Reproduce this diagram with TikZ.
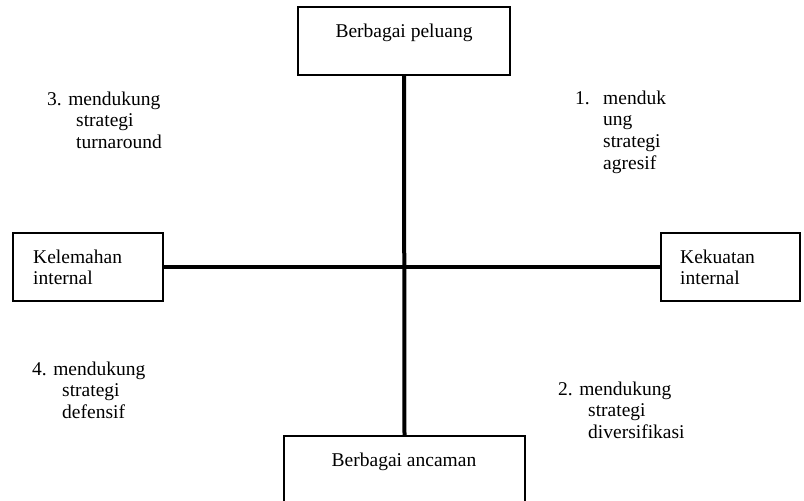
\documentclass[tikz,border=0pt]{standalone}
\usepackage{fontspec}
\setmainfont{Liberation Serif}
\usetikzlibrary{positioning}

\begin{document}
\begin{tikzpicture}[x=1pt,y=-1pt,
	kotak/.style={draw,line width=1.8pt,inner sep=0pt},
	teks/.style={font=\fontsize{19.5}{21.7}\selectfont,inner sep=0pt,align=left,anchor=base west},
	garis/.style={line width=4pt}
	]
	\useasboundingbox (0,0) rectangle (804,501);

	% kotak-kotak
	\node[kotak,minimum width=212pt,minimum height=68pt] (peluang) at (404,41) {};
	\node[kotak,minimum width=241pt,minimum height=67pt] (ancaman) at (404.5,469.5) {};
	\node[kotak,minimum width=150pt,minimum height=68pt] (kelemahan) at (88,267) {};
	\node[kotak,minimum width=139pt,minimum height=68pt] (kekuatan) at (730.5,267) {};

	\node[teks,anchor=base] (tpeluang) at (404,37) {Berbagai peluang};
	\node[teks,anchor=base] (tancaman) at (404,466) {Berbagai ancaman};
	% anchor base = baris terakhir
	\node[teks] (tkelemahan) at (33,284.7) {Kelemahan\\internal};
	\node[teks] (tkekuatan) at (680,284.7) {Kekuatan\\internal};

	\draw[garis] (peluang.south) -- (ancaman.north);
	\draw[garis] (kelemahan.east) -- (kekuatan.west);

	% kuadran
	\node[teks] (k1) at (575,169.1) {\makebox[28pt][l]{1.}menduk\\\hspace*{28pt}ung\\\hspace*{28pt}strategi\\\hspace*{28pt}agresif};
	\node[teks] (k2) at (558,438.4) {2. mendukung\\\hspace*{30pt}strategi\\\hspace*{30pt}diversifikasi};
	\node[teks] (k3) at (47,148.4) {3. mendukung\\\hspace*{29pt}strategi\\\hspace*{29pt}turnaround};
	\node[teks] (k4) at (32,418.4) {4. mendukung\\\hspace*{30pt}strategi\\\hspace*{30pt}defensif};
\end{tikzpicture}
\end{document}
